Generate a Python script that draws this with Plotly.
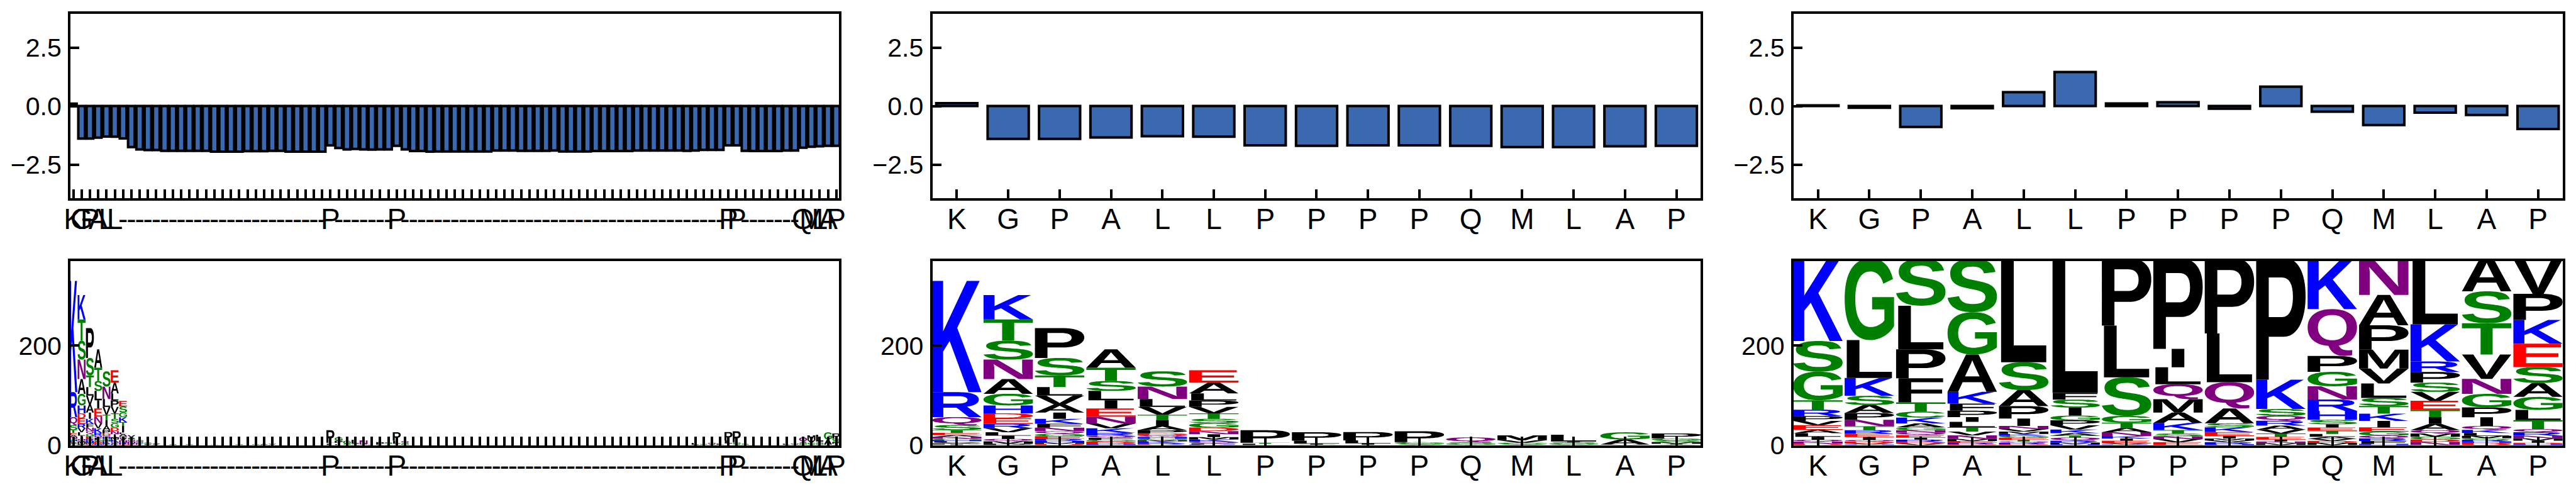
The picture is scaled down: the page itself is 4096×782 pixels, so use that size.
import glob
import struct
import plotly.graph_objects as go

# ---------- data ----------
sequence = ["K", "G", "P", "A", "L", "L", "P", "P", "P", "P", "Q", "M", "L", "A", "P"]
full_sites = [0, 1, 2, 3, 4, 5, 31, 39, 79, 80, 88, 89, 90, 91, 92]
n_full = 93

full_bars = [0.10, -1.39, -1.39, -1.35, -1.30, -1.31, -1.38, -1.75, -1.85, -1.88, -1.88,
             -1.91, -1.91, -1.91, -1.91, -1.91, -1.91, -1.95, -1.95, -1.95, -1.95,
             -1.93, -1.93, -1.93, -1.91, -1.91, -1.95, -1.95, -1.95, -1.95, -1.95,
             -1.68, -1.79, -1.85, -1.83, -1.85, -1.86, -1.85, -1.85, -1.70, -1.85,
             -1.92, -1.92, -1.95, -1.94, -1.94, -1.94, -1.94, -1.94, -1.94, -1.94,
             -1.90, -1.90, -1.90, -1.91, -1.91, -1.91, -1.91, -1.90, -1.94, -1.94,
             -1.94, -1.94, -1.92, -1.92, -1.92, -1.92, -1.92, -1.90, -1.90, -1.90,
             -1.90, -1.90, -1.90, -1.91, -1.90, -1.87, -1.87, -1.87, -1.68, -1.68,
             -1.91, -1.92, -1.92, -1.92, -1.92, -1.90, -1.90, -1.78, -1.74, -1.72,
             -1.70, -1.70]
mid_bars = [0.12, -1.40, -1.40, -1.34, -1.29, -1.31, -1.68, -1.70,
            -1.68, -1.68, -1.70, -1.75, -1.75, -1.72, -1.70]
right_bars = [0.03, -0.07, -0.89, -0.09, 0.59, 1.45, 0.11, 0.16,
              -0.11, 0.83, -0.24, -0.81, -0.28, -0.38, -0.98]

# Each column runs from the top of its stack to the bottom.
m00 = [("K", 223.6), ("R", 50), ("Q", 16), ("S", 10), ("T", 5.7), ("E", 4.8), ("A", 3), ("N", 4),
       ("G", 2.5), ("H", 2.5), ("L", 2.5), ("V", 2), ("P", 2), ("I", 1.5)]
m01 = [("K", 49), ("T", 42.7), ("S", 38), ("N", 39), ("A", 29.7), ("G", 23.3), ("H", 16), ("D", 10),
       ("E", 11), ("R", 8.6), ("V", 8.3), ("L", 7), ("I", 6.4), ("Q", 4.8), ("M", 4.8), ("P", 3)]
m02 = [("P", 60), ("S", 35), ("T", 23.6), ("L", 17), ("V", 18), ("A", 16), ("I", 12.8), ("K", 9.6),
       ("F", 8), ("N", 7), ("Q", 5.4), ("G", 4.8), ("E", 5), ("R", 4.5), ("H", 3), ("M", 3), ("D", 2.5)]
m03 = [("A", 37), ("T", 26.5), ("S", 19.8), ("L", 19), ("I", 16.3), ("E", 16.6), ("N", 13.7), ("V", 9.6),
       ("K", 9.3), ("R", 5.7), ("Q", 4), ("F", 4), ("G", 4), ("D", 5), ("H", 2)]
m04 = [("S", 30.6), ("N", 25), ("L", 16), ("V", 15.6), ("T", 10.5), ("I", 12), ("A", 8.6), ("P", 6.4),
       ("D", 3.8), ("Q", 3.2), ("H", 3.5), ("G", 2.9), ("M", 2.5), ("K", 3.8), ("R", 2.5), ("E", 1.5)]
m05 = [("E", 25), ("A", 21.4), ("L", 14.3), ("P", 12.8), ("V", 13), ("T", 11), ("S", 8.6), ("G", 9),
       ("D", 7), ("N", 6.4), ("I", 5.7), ("M", 4.8), ("K", 4.8), ("Q", 3.2), ("F", 2), ("R", 1.5)]
m06 = [("P", 25), ("T", 2), ("L", 3)]
m07 = [("P", 17), ("L", 6), ("I", 2), ("S", 1)]
m08 = [("P", 17), ("L", 6), ("I", 2), ("T", 1.5)]
m09 = [("P", 22), ("G", 3), ("S", 2), ("A", 1)]
m10 = [("Q", 9.6), ("S", 2.5), ("G", 2.5), ("T", 1)]
m11 = [("M", 9.6), ("V", 5), ("G", 2), ("S", 2), ("A", 1)]
m12 = [("L", 13.4), ("I", 1.5), ("S", 2.5), ("G", 2.5), ("A", 1)]
m13 = [("G", 14.4), ("A", 10), ("V", 1.5)]
m14 = [("P", 10), ("G", 4), ("S", 3.6), ("M", 3), ("T", 2), ("A", 1)]
mid_cols = [m00, m01, m02, m03, m04, m05, m06, m07, m08, m09, m10, m11, m12, m13, m14]

r00 = [("K", 167), ("S", 61.6), ("G", 57.4), ("T", 19), ("R", 12.8), ("P", 9.6), ("V", 8.6), ("E", 9.6),
       ("A", 6.7), ("L", 7), ("I", 6), ("Q", 4), ("N", 4), ("D", 3)]
r01 = [("G", 164), ("L", 76), ("K", 36), ("S", 18.5), ("A", 16), ("P", 13.7), ("N", 12.8), ("T", 8),
       ("R", 7), ("E", 7), ("I", 5.7), ("Q", 3.2), ("D", 3.8), ("V", 2), ("H", 1.5)]
r02 = [("S", 94), ("L", 87.7), ("P", 58), ("F", 48.5), ("T", 18.5), ("C", 12), ("K", 11.8), ("A", 8),
       ("G", 5.7), ("N", 4.8), ("Q", 4.8), ("E", 5.4), ("I", 3.8), ("R", 4.8), ("D", 3.2), ("V", 3.2)]
r03 = [("S", 107), ("G", 85), ("A", 75), ("K", 23.6), ("F", 14.4), ("P", 12.8), ("I", 9.6), ("L", 10.5),
       ("T", 9), ("V", 7.7), ("N", 7.3), ("M", 4), ("E", 3.8), ("R", 2.5), ("D", 2)]
r04 = [("L", 210), ("S", 56), ("A", 32), ("P", 25), ("I", 15), ("N", 6.4), ("V", 4.8), ("M", 4.8),
       ("K", 3.8), ("G", 4), ("E", 3.8), ("T", 3.5), ("Q", 3), ("R", 2.5), ("D", 2)]
r05 = [("L", 271), ("F", 13.4), ("S", 16), ("I", 16), ("G", 9.6), ("P", 10), ("V", 8.6), ("K", 7.3),
       ("A", 4.8), ("T", 3.8), ("Q", 6.4), ("R", 3.8), ("M", 3.2), ("H", 2)]
r06 = [("P", 135), ("L", 104), ("S", 77.5), ("G", 13.7), ("T", 10.8), ("A", 8.3), ("N", 7.6), ("K", 5),
       ("I", 4.5), ("E", 5), ("V", 2.5), ("R", 1.5)]
r07 = [("P", 182), ("I", 37), ("L", 34), ("Q", 30), ("M", 27), ("A", 20.7), ("K", 14.4), ("T", 7),
       ("S", 5.7), ("N", 5.7), ("V", 6), ("E", 6)]
r08 = [("P", 152), ("L", 98), ("Q", 52.6), ("A", 30), ("S", 8), ("K", 9.6), ("E", 8), ("I", 4.8),
       ("M", 4), ("V", 3.5), ("R", 4), ("H", 2)]
r09 = [("P", 245), ("K", 59), ("S", 13.7), ("Q", 10), ("R", 9.6), ("A", 8), ("V", 8), ("T", 6.7),
       ("E", 5.4), ("I", 3.8), ("N", 3.5), ("M", 4)]
r10 = [("K", 103), ("Q", 94), ("P", 32), ("G", 29), ("N", 26.5), ("R", 23), ("H", 18), ("S", 9),
       ("I", 6.4), ("E", 6.4), ("T", 6.4), ("L", 5.7), ("A", 4), ("V", 4.5), ("D", 4), ("M", 4.5)]
r11 = [("N", 73), ("A", 61), ("P", 49), ("M", 38), ("V", 30), ("L", 29), ("S", 16), ("T", 15.6),
       ("K", 14.4), ("I", 13), ("E", 8.6), ("G", 8), ("Q", 5.7), ("R", 5.4), ("F", 5.7), ("H", 2.5)]
r12 = [("L", 134), ("K", 74.6), ("R", 21), ("P", 21.4), ("S", 18.5), ("V", 18), ("E", 18.5), ("T", 14.4),
       ("I", 13.4), ("A", 12.8), ("Q", 6.7), ("M", 6.4), ("G", 5.4), ("D", 4.8), ("N", 6.8)]
r13 = [("A", 68), ("S", 64), ("T", 63), ("V", 49), ("N", 30), ("G", 27), ("P", 20), ("I", 17.5),
       ("Q", 7.7), ("K", 6.4), ("L", 5.7), ("M", 4.8), ("C", 3), ("R", 3.5), ("H", 2.5), ("D", 5)]
r14 = [("V", 69.5), ("P", 52.6), ("K", 47.5), ("E", 47), ("S", 32), ("A", 28), ("G", 26), ("L", 20.7),
       ("T", 18), ("Q", 6.4), ("R", 6.7), ("N", 5.4), ("M", 4.8), ("I", 4), ("D", 2.5), ("H", 2.5)]
right_cols = [r00, r01, r02, r03, r04, r05, r06, r07, r08, r09, r10, r11, r12, r13, r14]

f06 = [("E", 11), ("S", 12), ("G", 9.6), ("K", 10), ("T", 7), ("I", 13.7), ("L", 3), ("A", 4),
       ("Q", 4.5), ("V", 4), ("N", 5), ("R", 3), ("D", 2)]
f07 = [("V", 4), ("A", 3), ("S", 3), ("Q", 3), ("N", 3), ("R", 2), ("E", 2)]
f08 = [("S", 2.5), ("Q", 2.5), ("G", 2), ("K", 2), ("E", 1.5)]
f09 = [("S", 1.5), ("G", 1.5), ("A", 1.5), ("L", 1)]
f10 = [("A", 1.5), ("V", 1.5), ("L", 1)]
f12 = [("S", 1), ("G", 0.7)]
f14 = [("G", 1.2), ("S", 0.8)]
f17 = [("S", 1.2)]
f20 = [("G", 1), ("S", 0.8)]
f22 = [("S", 1.2), ("T", 1)]
f23 = [("A", 1.5), ("L", 1)]
f24 = [("V", 1.5), ("G", 1)]
f32 = [("G", 7), ("P", 4), ("T", 3), ("L", 2)]
f33 = [("G", 6), ("S", 2), ("T", 1)]
f34 = [("L", 8), ("I", 1.5), ("S", 1.5)]
f35 = [("N", 7.5), ("G", 1), ("S", 1)]
f36 = [("I", 5), ("L", 1)]
f37 = [("P", 5), ("A", 1)]
f38 = [("S", 3), ("T", 2), ("A", 1)]
f40 = [("Q", 3), ("S", 2.5), ("G", 2.5)]
f75 = [("L", 3.5), ("A", 1)]
f76 = [("S", 1.5), ("G", 1)]
f77 = [("Q", 3), ("S", 2)]
f78 = [("L", 2), ("G", 1)]
f81 = [("S", 2), ("G", 1)]
f86 = [("L", 2), ("A", 1)]
f87 = [("Q", 2.5), ("S", 1)]

full_extra_sites = [6, 7, 8, 9, 10, 12, 14, 17, 20, 22, 23, 24, 32, 33, 34, 35, 36, 37, 38, 40,
                    75, 76, 77, 78, 81, 86, 87]
full_extra_cols = [f06, f07, f08, f09, f10, f12, f14, f17, f20, f22, f23, f24, f32, f33, f34, f35,
                   f36, f37, f38, f40, f75, f76, f77, f78, f81, f86, f87]

colour_groups = [("GSTYC", "#008000"), ("QN", "#800080"), ("KRH", "#0000ff"),
                 ("DE", "#ff0000"), ("AVLIPWFM", "#000000")]
bar_fill = "#3a69b0"

# ---------- letter outlines from the installed font ----------
font_path = glob.glob("/usr/share/fonts/**/LiberationSans-Bold.ttf", recursive=True)[0]
with open(font_path, "rb") as fh:
    ttf = fh.read()
n_tables = struct.unpack(">H", ttf[4:6])[0]
tables = {}
for i in range(n_tables):
    tag, _, off, ln = struct.unpack(">4sIII", ttf[12 + 16 * i:28 + 16 * i])
    tables[tag.decode()] = (off, ln)
loca_fmt = struct.unpack(">h", ttf[tables["head"][0] + 50:tables["head"][0] + 52])[0]


def glyph_index(ch):
    base = tables["cmap"][0]
    nsub = struct.unpack(">H", ttf[base + 2:base + 4])[0]
    for i in range(nsub):
        pid, eid, off = struct.unpack(">HHI", ttf[base + 4 + 8 * i:base + 12 + 8 * i])
        sub = base + off
        if struct.unpack(">H", ttf[sub:sub + 2])[0] != 4:
            continue
        seg = struct.unpack(">H", ttf[sub + 6:sub + 8])[0] // 2
        ends = struct.unpack(f">{seg}H", ttf[sub + 14:sub + 14 + 2 * seg])
        starts = struct.unpack(f">{seg}H", ttf[sub + 16 + 2 * seg:sub + 16 + 4 * seg])
        deltas = struct.unpack(f">{seg}h", ttf[sub + 16 + 4 * seg:sub + 16 + 6 * seg])
        ro_pos = sub + 16 + 6 * seg
        ros = struct.unpack(f">{seg}H", ttf[ro_pos:ro_pos + 2 * seg])
        code = ord(ch)
        for j in range(seg):
            if starts[j] <= code <= ends[j]:
                if ros[j] == 0:
                    return (code + deltas[j]) & 0xFFFF
                p = ro_pos + 2 * j + ros[j] + 2 * (code - starts[j])
                g = struct.unpack(">H", ttf[p:p + 2])[0]
                return (g + deltas[j]) & 0xFFFF
    raise KeyError(ch)


def glyph_contours(ch):
    gid = glyph_index(ch)
    lo = tables["loca"][0]
    if loca_fmt == 0:
        a, b = struct.unpack(">HH", ttf[lo + 2 * gid:lo + 2 * gid + 4])
        a, b = a * 2, b * 2
    else:
        a, b = struct.unpack(">II", ttf[lo + 4 * gid:lo + 4 * gid + 8])
    p = tables["glyf"][0] + a
    nc = struct.unpack(">h", ttf[p:p + 2])[0]
    p += 10
    ends = struct.unpack(f">{nc}H", ttf[p:p + 2 * nc])
    p += 2 * nc
    ilen = struct.unpack(">H", ttf[p:p + 2])[0]
    p += 2 + ilen
    npts = ends[-1] + 1
    flags = []
    while len(flags) < npts:
        f = ttf[p]
        p += 1
        flags.append(f)
        if f & 8:
            flags.extend([f] * ttf[p])
            p += 1
    coords = []
    for short, same in ((2, 16), (4, 32)):
        vals, v = [], 0
        for f in flags:
            if f & short:
                d = ttf[p]
                p += 1
                v += d if f & same else -d
            elif not f & same:
                v += struct.unpack(">h", ttf[p:p + 2])[0]
                p += 2
            vals.append(v)
        coords.append(vals)
    out, start = [], 0
    for e in ends:
        raw = [(coords[0][i], coords[1][i], flags[i] & 1) for i in range(start, e + 1)]
        start = e + 1
        pts = []
        for i, q in enumerate(raw):
            pts.append(q)
            nx = raw[(i + 1) % len(raw)]
            if not q[2] and not nx[2]:
                pts.append(((q[0] + nx[0]) / 2, (q[1] + nx[1]) / 2, 1))
        first = next(i for i, q in enumerate(pts) if q[2])
        pts = pts[first:] + pts[:first] + [pts[first]]
        poly, i = [pts[0][:2]], 1
        while i < len(pts):
            if pts[i][2]:
                poly.append(pts[i][:2])
                i += 1
            else:
                c, d, s = pts[i], pts[i + 1], poly[-1]
                for k in range(1, 9):
                    t = k / 8
                    poly.append(((1 - t) ** 2 * s[0] + 2 * t * (1 - t) * c[0] + t * t * d[0],
                                 (1 - t) ** 2 * s[1] + 2 * t * (1 - t) * c[1] + t * t * d[1]))
                i += 2
        out.append(poly)
    return out


outlines = {}
for group, _ in colour_groups:
    for ch in group:
        outlines[ch] = glyph_contours(ch)


def bbox(ch):
    xs = [q[0] for c in outlines[ch] for q in c]
    ys = [q[1] for c in outlines[ch] for q in c]
    return min(xs), max(xs), min(ys), max(ys)


e_box = bbox("E")
glyph_width = 0.96
max_stretch = glyph_width / (e_box[1] - e_box[0])


def logo_traces(sites, cols, xa, ya):
    """One filled trace per colour/letter, placed through the axes by (site, stack height)."""
    paths = {}
    for site, col in zip(sites, cols):
        floor = 0.0
        for ch, h in reversed(col):
            if h <= 0:
                continue
            x0, x1, y0, y1 = bbox(ch)
            sx = min(glyph_width / (x1 - x0), max_stretch)
            sy = h / (y1 - y0)
            xs, ys = paths.setdefault(ch, ([], []))
            for contour in outlines[ch]:
                for px, py in contour:
                    xs.append(site + (px - (x0 + x1) / 2) * sx)
                    ys.append(floor + (py - y0) * sy)
                xs.append(None)
                ys.append(None)
            floor += h
    traces = []
    for group, colour in colour_groups:
        for ch in group:
            if ch in paths:
                traces.append(go.Scatter(x=paths[ch][0], y=paths[ch][1], mode="lines", name=ch,
                                         line=dict(width=0, color=colour, simplify=False),
                                         fill="toself", fillcolor=colour, hoverinfo="skip",
                                         showlegend=False, xaxis=xa, yaxis=ya))
    return traces


# ---------- page layout ----------
W, H = 4096, 782
LW = 4
col_px = [(110.0, 1336.3), (1480.5, 2706.4), (2849.7, 4076.6)]
top_px = (19.7, 317.4)
bottom_px = (412.9, 709.6)
top_lim = (-4.0, 4.0)
bottom_lim = (0.0, 375.0)

full_ticktext = ["-"] * n_full
for s, letter in zip(full_sites, sequence):
    full_ticktext[s] = letter
mid_sites = list(range(len(sequence)))

fig = go.Figure()
font_y = dict(family="Liberation Sans", size=41, color="black")
font_x = dict(family="Liberation Sans", size=46, color="black")
layout = {}


def axes(idx, col, row_px, lim, n, tickvals, ticktext, yvals, ytext, zero_floor=False):
    L, R = col_px[col]
    T, B = row_px
    ppx = (R - L) / n
    ppy = (B - T) / (lim[1] - lim[0])
    off = LW / 2
    sfx = "" if idx == 1 else str(idx)
    if zero_floor:
        yrange = [lim[0], lim[0] + (B - T - 2 * off) / ppy]
    else:
        yrange = [lim[0] + off / ppy, lim[1] - off / ppy]
    layout["xaxis" + sfx] = dict(domain=[(L + off) / W, (R - off) / W], automargin=False,
                                 range=[-0.5 + off / ppx, n - 0.5 - off / ppx],
                                 anchor="y" + sfx, tickmode="array", tickvals=tickvals, ticktext=ticktext,
                                 tickangle=0, ticks="inside", ticklen=14, tickwidth=LW, tickcolor="black",
                                 showline=True, linecolor="black", linewidth=LW, mirror=True,
                                 showgrid=False, zeroline=False, tickfont=font_x, ticklabelstandoff=-11)
    layout["yaxis" + sfx] = dict(domain=[1 - (B - off) / H, 1 - (T + off) / H], automargin=False,
                                 range=yrange,
                                 anchor="x" + sfx, tickmode="array", tickvals=yvals, ticktext=ytext,
                                 ticks="inside", ticklen=14, tickwidth=LW, tickcolor="black",
                                 showline=True, linecolor="black", linewidth=LW, mirror=True,
                                 showgrid=False, zeroline=False, tickfont=font_y, ticklabelstandoff=2)


bar_y = [2.5, 0.0, -2.5]
bar_t = ["2.5", "0.0", "\u22122.5"]
logo_y = [0, 200]
logo_t = ["0", "200"]
all_sites = list(range(n_full))
axes(1, 0, top_px, top_lim, n_full, all_sites, full_ticktext, bar_y, bar_t)
axes(2, 1, top_px, top_lim, 15, mid_sites, sequence, bar_y, bar_t)
axes(3, 2, top_px, top_lim, 15, mid_sites, sequence, bar_y, bar_t)
axes(4, 0, bottom_px, bottom_lim, n_full, all_sites, full_ticktext, logo_y, logo_t, zero_floor=True)
axes(5, 1, bottom_px, bottom_lim, 15, mid_sites, sequence, logo_y, logo_t, zero_floor=True)
axes(6, 2, bottom_px, bottom_lim, 15, mid_sites, sequence, logo_y, logo_t, zero_floor=True)

for idx, xs, ys in ((1, all_sites, full_bars), (2, mid_sites, mid_bars), (3, mid_sites, right_bars)):
    sfx = "" if idx == 1 else str(idx)
    fig.add_trace(go.Bar(x=xs, y=ys, width=0.8, marker=dict(color=bar_fill, line=dict(color="black", width=LW)),
                         xaxis="x" + sfx, yaxis="y" + sfx, showlegend=False, hoverinfo="skip"))

fig.add_traces(logo_traces(full_sites + full_extra_sites, mid_cols + full_extra_cols, "x4", "y4"))
fig.add_traces(logo_traces(mid_sites, mid_cols, "x5", "y5"))
fig.add_traces(logo_traces(mid_sites, right_cols, "x6", "y6"))

fig.update_layout(width=W, height=H, autosize=False, margin=dict(l=0, r=0, t=0, b=0, pad=0, autoexpand=False),
                  paper_bgcolor="white", plot_bgcolor="white", showlegend=False, **layout)
fig.write_html("out.html", config={"displayModeBar": False}, post_script="document.body.style.margin='0';")
